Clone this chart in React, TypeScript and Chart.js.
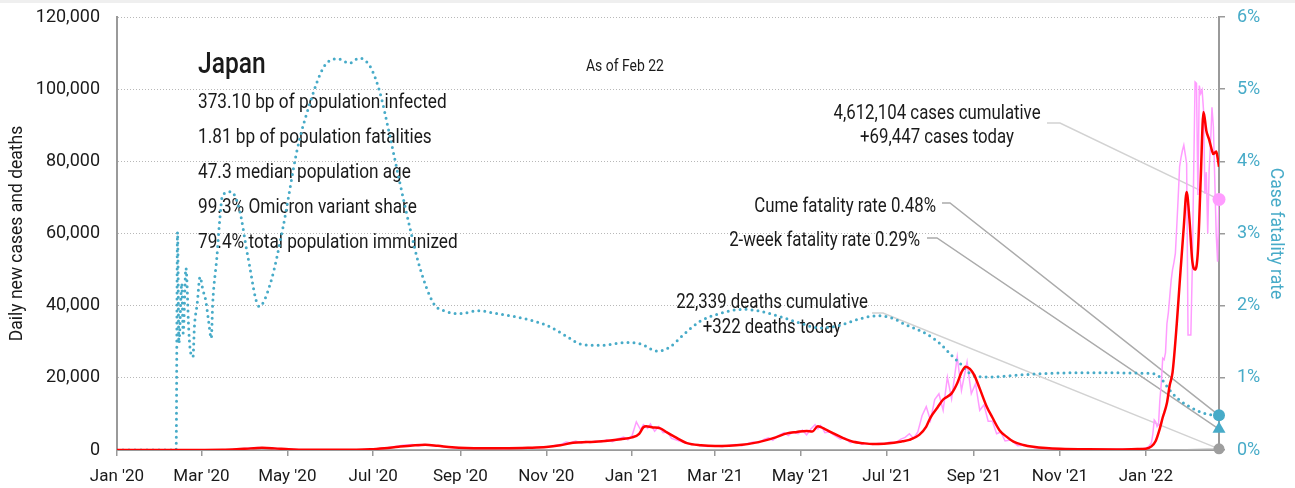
import React, { useEffect, useRef } from "react";
import { Chart, registerables } from "chart.js";

Chart.register(...registerables);

const FONT = "Roboto, 'Liberation Sans', sans-serif";
const NARROW = 0.82; // horizontal squeeze for the condensed-looking annotation text

// ---- axis / labels ----
const END_DAY = 783; // days since Jan 1 2020 (Feb 22 2022)
const tickDays = [0, 60, 121, 182, 244, 305, 366, 425, 486, 547, 609, 670, 731];
const tickLabels = ["Jan '20", "Mar '20", "May '20", "Jul '20", "Sep '20", "Nov '20", "Jan '21", "Mar '21", "May '21", "Jul '21", "Sep '21", "Nov '21", "Jan '22"];

// ---- 7-day average new cases (red) ----
const avgDays = [0, 30, 45, 60, 75, 85, 95, 103, 112, 122, 135, 155, 170, 180, 190, 200, 210, 219, 228, 238, 248, 262, 278, 292, 305, 315, 324, 334, 342, 352, 358, 366, 371, 374, 376, 380, 386, 391, 396, 405, 415, 425, 435, 444, 452, 460, 468, 476, 483, 490, 494, 498, 503, 509, 516, 523, 530, 537, 545, 552, 558, 563, 570, 575, 578, 583, 587, 593, 597, 600, 603, 606, 609, 613, 618, 622, 627, 632, 637, 644, 651, 660, 670, 690, 710, 725, 731, 735, 738, 741, 743, 746, 748, 750, 753, 755, 758, 760, 762, 764, 766, 768, 770, 772, 774, 776, 778, 779, 781, 782, 783];
const avgCases = [0, 2, 8, 25, 50, 200, 450, 600, 450, 200, 50, 40, 80, 200, 500, 900, 1250, 1450, 1150, 750, 550, 500, 500, 600, 800, 1300, 2000, 2200, 2350, 2700, 3000, 3500, 4500, 6300, 6600, 6300, 6000, 4800, 3700, 1900, 1300, 1100, 1200, 1450, 1900, 2600, 3500, 4600, 5000, 5300, 5100, 6600, 5800, 4600, 3300, 2300, 1900, 1650, 1750, 2000, 2400, 2800, 4200, 6500, 9000, 11800, 14000, 15700, 18500, 21500, 23100, 22500, 20800, 17000, 12000, 9000, 5500, 3700, 2300, 1400, 900, 550, 350, 200, 170, 250, 350, 1000, 2500, 6000, 9000, 13000, 18000, 21500, 35000, 46000, 62000, 71500, 64000, 52500, 50000, 55000, 75000, 93700, 88500, 86000, 83000, 82000, 82700, 81000, 78500];

// ---- daily new cases (pink) ----
const dailyDays = [0, 30, 45, 60, 70, 80, 88, 95, 100, 104, 108, 115, 122, 130, 145, 160, 175, 185, 192, 197, 203, 210, 214, 218, 222, 226, 232, 240, 250, 262, 275, 290, 300, 308, 312, 316, 319, 322, 326, 330, 333, 336, 340, 344, 348, 352, 356, 360, 363, 366, 369, 372, 374, 377, 379, 382, 385, 388, 391, 394, 398, 402, 406, 410, 415, 420, 425, 430, 435, 440, 444, 448, 452, 456, 460, 463, 466, 470, 474, 477, 480, 484, 487, 490, 493, 496, 498, 500, 503, 506, 510, 514, 517, 521, 525, 529, 533, 537, 541, 545, 549, 553, 557, 560, 563, 566, 569, 572, 575, 578, 581, 584, 587, 590, 593, 597, 600, 604, 607, 610, 613, 616, 619, 622, 625, 628, 631, 635, 640, 645, 652, 660, 670, 690, 710, 725, 728, 731, 733, 735, 736, 737, 738, 739, 740, 741, 742, 743, 744, 745, 746, 747, 748, 749, 750, 751, 752, 753, 754, 755, 756, 757, 758, 759, 760, 761, 763, 764, 765, 766, 767, 768, 769, 770, 771, 772, 773, 774, 775, 776, 777, 778, 779, 780, 781, 782, 783];
const dailyCases = [0, 3, 10, 15, 40, 100, 350, 550, 700, 500, 650, 350, 200, 80, 40, 50, 120, 300, 600, 900, 1300, 1500, 1100, 1550, 1300, 1200, 900, 600, 500, 550, 400, 650, 700, 1000, 1300, 1600, 2200, 2000, 2500, 1900, 2400, 2000, 2500, 2200, 2800, 2300, 3100, 3600, 2800, 4000, 7800, 5600, 7000, 6000, 7200, 5200, 6500, 4800, 5000, 3200, 2700, 2200, 1700, 1500, 1200, 1000, 1200, 900, 1300, 1500, 1200, 1800, 2200, 2000, 3000, 3400, 2700, 4000, 4800, 4000, 5000, 4500, 5500, 4200, 5800, 7000, 5800, 6800, 4800, 5000, 4000, 3000, 3400, 2000, 2400, 1600, 1800, 1500, 1900, 1700, 2200, 2000, 3000, 3500, 4500, 3200, 5000, 9500, 12000, 8200, 14000, 15600, 11000, 20200, 14200, 25800, 16500, 24400, 15600, 18400, 11000, 12500, 8000, 8000, 4500, 5000, 2500, 2800, 1200, 1400, 600, 400, 300, 150, 200, 300, 400, 500, 900, 2000, 4500, 8300, 7800, 6500, 7000, 14000, 18500, 25400, 25000, 27000, 35000, 38000, 42500, 47000, 50000, 52000, 54500, 62000, 70000, 78500, 81000, 83000, 84500, 82000, 79400, 31900, 31900, 50000, 76700, 102000, 101600, 70700, 101000, 98800, 99800, 94200, 71000, 77000, 60000, 77600, 85000, 95000, 89600, 74800, 60000, 52200, 69447];

// ---- daily deaths, 7-day average (grey) ----
const deathDays = [0, 60, 100, 130, 200, 230, 300, 340, 380, 400, 430, 470, 500, 530, 560, 600, 620, 650, 700, 731, 760, 775, 783];
const deathAvg = [0, 5, 20, 10, 5, 12, 10, 40, 70, 80, 40, 30, 100, 50, 15, 40, 55, 15, 2, 3, 80, 180, 230];

// ---- case fatality rate, % (teal dotted, right axis) ----
const cfrDays = [0, 42, 43, 44, 46, 47, 49, 51, 52, 54, 55, 57, 59, 61, 63, 65, 67, 68, 71, 73, 75, 81, 87, 93, 101, 109, 118, 128, 137, 147, 157, 165, 172, 180, 187, 194, 201, 208, 215, 225, 234, 244, 256, 270, 282, 305, 320, 329, 343, 362, 372, 384, 393, 402, 414, 428, 445, 455, 471, 485, 500, 514, 528, 540, 552, 559, 575, 585, 593, 599, 606, 618, 635, 658, 694, 736, 741, 748, 755, 765, 774, 783];
const cfrPct = [0, 0, 3.02, 1.48, 2.31, 1.62, 2.52, 1.66, 1.39, 1.29, 1.71, 2.03, 2.4, 2.22, 2.08, 1.8, 1.55, 2.03, 2.68, 3.19, 3.53, 3.58, 3.33, 2.68, 1.99, 2.31, 3.09, 4.16, 4.8, 5.31, 5.42, 5.36, 5.43, 5.31, 4.94, 4.34, 3.7, 3.09, 2.54, 2.03, 1.92, 1.89, 1.93, 1.89, 1.85, 1.73, 1.57, 1.47, 1.45, 1.49, 1.47, 1.37, 1.43, 1.59, 1.78, 1.89, 1.95, 1.93, 1.85, 1.76, 1.69, 1.73, 1.82, 1.86, 1.82, 1.75, 1.61, 1.47, 1.31, 1.2, 1.06, 1.01, 1.03, 1.06, 1.07, 1.06, 1.01, 0.83, 0.69, 0.57, 0.5, 0.48];

// ---- latest values & annotation texts ----
const casesToday = 69447;
const deathsToday = 322;
const cumeFatalityRate = 0.48;
const twoWeekFatalityRate = 0.29;
const countryName = "Japan";
const asOfLabel = "As of Feb 22";
const statLines = [
  "373.10 bp of population infected",
  "1.81 bp of population fatalities",
  "47.3 median population age",
  "99.3% Omicron variant share",
  "79.4% total population immunized",
];
const casesNote = ["4,612,104 cases cumulative", "+69,447 cases today"];
const deathsNote = ["22,339 deaths cumulative", "+322 deaths today"];
const cumeNote = "Cume fatality rate 0.48%";
const twoWeekNote = "2-week fatality rate 0.29%";

const TEAL = "#47abc8";
const PINK = "#ff9cff";
const RED = "#ff0000";
const AXIS = "#9a9a9a";
const TEXT = "#1a1a1a";

const pts = (xs: number[], ys: number[]) => xs.map((x, i) => ({ x, y: ys[i] }));

const annotationPlugin = {
  id: "annotations",
  beforeDatasetsDraw(chart: any) {
    const { ctx, scales } = chart;
    const xs = scales.x, y = scales.y, y1 = scales.y1;
    const ex = xs.getPixelForValue(END_DAY);

    const say = (text: string, x: number, yy: number, font: string, align: CanvasTextAlign) => {
      ctx.save();
      ctx.translate(x, yy);
      ctx.scale(NARROW, 1);
      ctx.font = font;
      ctx.textAlign = align;
      ctx.textBaseline = "alphabetic";
      ctx.fillStyle = TEXT;
      ctx.fillText(text, 0, 0);
      ctx.restore();
    };

    say(countryName, 198, 73, `500 30px ${FONT}`, "left");
    statLines.forEach((t, i) => say(t, 198, 108 + i * 35, `21px ${FONT}`, "left"));
    say(asOfLabel, 586, 71, `17px ${FONT}`, "left");

    const note = `20.5px ${FONT}`;
    say(casesNote[0], 937, 119, note, "center");
    say(casesNote[1], 937, 143, note, "center");
    say(deathsNote[0], 772, 308, note, "center");
    say(deathsNote[1], 772, 333, note, "center");
    say(cumeNote, 936, 212, note, "right");
    say(twoWeekNote, 920, 246, note, "right");

    const leader = (sx: number, sy: number, hx: number, tx: number, ty: number, color: string) => {
      ctx.save();
      ctx.beginPath();
      ctx.moveTo(sx, sy);
      ctx.lineTo(hx, sy);
      ctx.lineTo(tx, ty);
      ctx.strokeStyle = color;
      ctx.lineWidth = 1.5;
      ctx.stroke();
      ctx.restore();
    };
    leader(1047, 123, 1060, ex, y.getPixelForValue(casesToday), "#d2d2d2");
    leader(942, 203, 950, ex, y1.getPixelForValue(cumeFatalityRate), "#ababab");
    leader(927, 238, 937, ex, y1.getPixelForValue(twoWeekFatalityRate), "#ababab");
    leader(872, 313, 883, ex, y.getPixelForValue(deathsToday), "#d2d2d2");
  },
};

export default function App() {
  const ref = useRef<HTMLCanvasElement | null>(null);

  useEffect(() => {
    if (!ref.current) return;
    const xFont = { family: FONT, size: 17 };
    const yFont = { family: FONT, size: 18 };
    const titleFont = { family: FONT, size: 17.5 };
    const fixVertical = (width: number) => (s: any) => {
      s.width = width;
      s.paddingTop = 0;
      s.paddingBottom = 0;
    };
    const chart = new Chart(ref.current, {
      type: "line",
      data: {
        datasets: [
          {
            label: "Cases today",
            data: [{ x: END_DAY, y: casesToday }],
            yAxisID: "y",
            showLine: false,
            pointRadius: 6.5,
            pointBackgroundColor: PINK,
            pointBorderWidth: 0,
            clip: false,
          } as any,
          {
            label: "Cume fatality rate",
            data: [{ x: END_DAY, y: cumeFatalityRate }],
            yAxisID: "y1",
            showLine: false,
            pointRadius: 6,
            pointBackgroundColor: TEAL,
            pointBorderWidth: 0,
            clip: false,
          },
          {
            label: "2-week fatality rate",
            data: [{ x: END_DAY, y: twoWeekFatalityRate }],
            yAxisID: "y1",
            showLine: false,
            pointStyle: "triangle",
            pointRadius: 7.5,
            pointBackgroundColor: TEAL,
            pointBorderWidth: 0,
            clip: false,
          },
          {
            label: "Deaths today",
            data: [{ x: END_DAY, y: deathsToday }],
            yAxisID: "y",
            showLine: false,
            pointRadius: 5.5,
            pointBackgroundColor: "#9e9e9e",
            pointBorderWidth: 0,
            clip: false,
          },
          {
            label: "7-day average cases",
            data: pts(avgDays, avgCases),
            yAxisID: "y",
            borderColor: RED,
            borderWidth: 2.5,
            pointRadius: 0,
            cubicInterpolationMode: "monotone",
          },
          {
            label: "Case fatality rate",
            data: pts(cfrDays, cfrPct),
            yAxisID: "y1",
            borderColor: TEAL,
            borderWidth: 3,
            borderDash: [0, 6],
            borderCapStyle: "round",
            pointRadius: 0,
            cubicInterpolationMode: "monotone",
          },
          {
            label: "Daily cases",
            data: pts(dailyDays, dailyCases),
            yAxisID: "y",
            borderColor: PINK,
            borderWidth: 1.5,
            pointRadius: 0,
            tension: 0,
          },
          {
            label: "Daily deaths",
            data: pts(deathDays, deathAvg),
            yAxisID: "y",
            borderColor: "#b0b0b0",
            borderWidth: 1.5,
            pointRadius: 0,
            tension: 0.3,
          },
        ],
      },
      options: {
        animation: false,
        responsive: false,
        layout: { padding: { top: 17, left: 0, right: 0, bottom: 0 } },
        plugins: { legend: { display: false }, tooltip: { enabled: false } },
        scales: {
          x: {
            type: "linear",
            min: 0,
            max: END_DAY,
            afterBuildTicks: (s: any) => {
              s.ticks = tickDays.map((v) => ({ value: v }));
            },
            afterFit: (s: any) => {
              s.height = 38;
            },
            ticks: {
              callback: (_v: any, i: number) => tickLabels[i],
              font: xFont,
              color: TEXT,
              maxRotation: 0,
              autoSkip: false,
              padding: 11,
            },
            grid: { display: true, drawOnChartArea: false, drawTicks: true, tickLength: 6, color: AXIS, lineWidth: 1.5 },
            border: { display: true, color: AXIS, width: 2 },
          },
          y: {
            position: "left",
            min: 0,
            max: 120000,
            afterFit: fixVertical(117),
            ticks: {
              stepSize: 20000,
              callback: (v: any) => Number(v).toLocaleString("en-US"),
              font: yFont,
              color: TEXT,
              padding: 17,
            },
            grid: { color: "#b8b8b8", lineWidth: 1, drawTicks: false },
            border: { display: true, color: AXIS, width: 2, dash: [1, 2] },
            title: {
              display: true,
              text: "Daily new cases and deaths",
              font: titleFont,
              color: TEXT,
              padding: { top: 7.5, bottom: 0 },
            },
          },
          y1: {
            position: "right",
            min: 0,
            max: 6,
            afterFit: fixVertical(76),
            ticks: {
              stepSize: 1,
              callback: (v: any) => `${v}%`,
              font: yFont,
              color: TEAL,
              padding: 12,
            },
            grid: { drawOnChartArea: false, drawTicks: true, tickLength: 6, color: AXIS, lineWidth: 1.5 },
            border: { display: true, color: AXIS, width: 2 },
            title: {
              display: true,
              text: "Case fatality rate",
              font: titleFont,
              color: TEAL,
              padding: { top: 9.5, bottom: 0 },
            },
          },
        },
      } as any,
      plugins: [annotationPlugin],
    });
    return () => chart.destroy();
  }, []);

  return (
    <div style={{ position: "absolute", left: 0, top: 0, width: 1295, height: 488, background: "#ffffff", overflow: "hidden" }}>
      <div style={{ position: "absolute", left: 0, top: 0, width: 1295, height: 3, background: "#efefef" }} />
      <canvas ref={ref} width={1295} height={488} style={{ position: "absolute", left: 0, top: 0 }} />
    </div>
  );
}
